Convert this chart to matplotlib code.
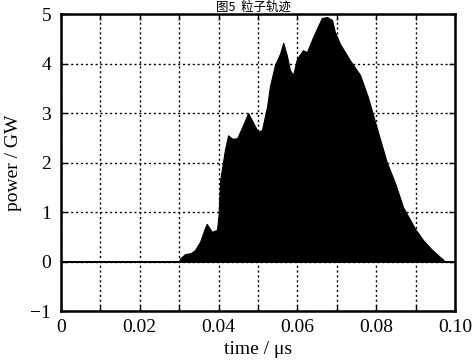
import numpy as np
import matplotlib
matplotlib.use('Agg')
import matplotlib.pyplot as plt
from matplotlib.ticker import MultipleLocator

# envelope of the output power
time_us = [0.0, 0.0300, 0.0302, 0.0315, 0.0330, 0.0340, 0.0353, 0.0365, 0.0370,
           0.0383, 0.0396, 0.0400, 0.0404, 0.0416, 0.0424, 0.0435, 0.0447, 0.0460,
           0.0475, 0.0488, 0.0500, 0.0510, 0.0523, 0.0530, 0.0543, 0.0556, 0.0564,
           0.0573, 0.0581, 0.0589, 0.0599, 0.0614, 0.0624, 0.0640, 0.0652, 0.0662,
           0.0675, 0.0688, 0.0695, 0.0708, 0.0733, 0.0759, 0.0779, 0.0805, 0.0827,
           0.0848, 0.0868, 0.0898, 0.0919, 0.0940, 0.0962, 0.0970, 0.0972, 0.1000]
power_gw = [0.0, 0.0, 0.06, 0.15, 0.17, 0.23, 0.40, 0.67, 0.76,
            0.60, 0.64, 0.95, 1.65, 2.25, 2.55, 2.48, 2.49, 2.72,
            3.00, 2.80, 2.62, 2.66, 3.13, 3.53, 3.97, 4.20, 4.42,
            4.17, 3.87, 3.77, 4.10, 4.27, 4.23, 4.54, 4.75, 4.92,
            4.94, 4.88, 4.64, 4.40, 4.07, 3.77, 3.32, 2.60, 2.00,
            1.58, 1.10, 0.67, 0.43, 0.25, 0.09, 0.04, 0.0, 0.0]

x_ticks = [0, 0.02, 0.04, 0.06, 0.08, 0.10]
x_labels = ['0', '0.02', '0.04', '0.06', '0.08', '0.10']
y_ticks = [-1, 0, 1, 2, 3, 4, 5]

plt.rcParams['font.family'] = ['Liberation Serif', 'DejaVu Serif']
plt.rcParams['font.size'] = 14

fig = plt.figure(figsize=(4.76, 3.61), dpi=100)
ax = fig.add_axes([0.128, 0.1385, 0.828, 0.8225])

ax.fill_between(time_us, 0, power_gw, color='black', linewidth=0.8, zorder=3)
ax.plot([0, 0.1], [0, 0], color='black', linewidth=1.2, zorder=4)

ax.set_xlim(0, 0.1)
ax.set_ylim(-1, 5)
ax.set_xticks(x_ticks)
ax.set_xticklabels(x_labels)
ax.xaxis.set_minor_locator(MultipleLocator(0.01))
ax.set_yticks(y_ticks)
ax.set_yticklabels(['\u22121'] + [str(v) for v in y_ticks[1:]])

ax.grid(True, which='both', linestyle=(0, (1.5, 2.0)), color='black', linewidth=1.0, zorder=1)
ax.tick_params(which='both', direction='in', top=True, right=True, length=4, width=1)
ax.tick_params(axis='x', pad=6)
ax.tick_params(axis='y', pad=7)
for s in ax.spines.values():
    s.set_linewidth(1.8)

ax.set_xlabel('time / \u03bcs', labelpad=3)
ax.set_ylabel('power / GW', labelpad=6)

# title line sits right at the top edge of the scan
fig.text(0.532, 0.999, '图5  粒子轨迹', ha='center', va='top', fontsize=9,
         family=['Noto Sans CJK SC', 'DejaVu Sans'])

fig.savefig('out.png', dpi=100)
